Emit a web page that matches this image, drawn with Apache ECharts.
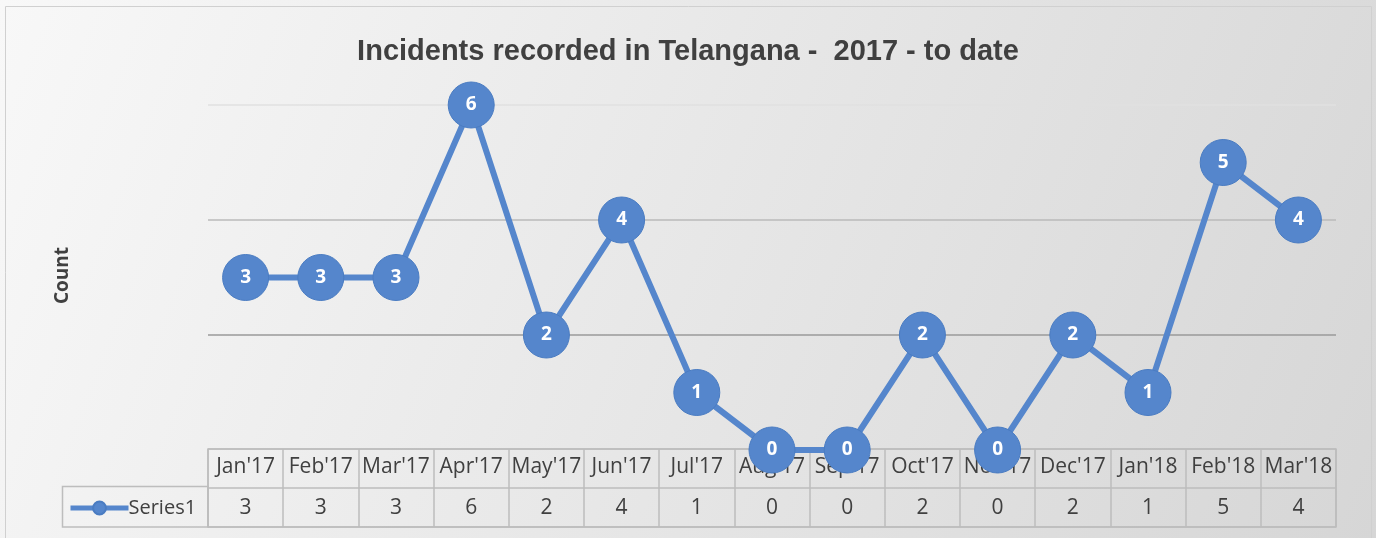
<!DOCTYPE html>
<html>
<head>
<meta charset="utf-8">
<script src="https://cdn.jsdelivr.net/npm/echarts@6/dist/echarts.min.js"></script>
<style>
html,body{margin:0;padding:0;background:#fff;}
#chart{width:1376px;height:538px;}
</style>
</head>
<body>
<div id="chart"></div>
<script>
const categories = ["Jan'17","Feb'17","Mar'17","Apr'17","May'17","Jun'17","Jul'17","Aug'17","Sep'17","Oct'17","Nov'17","Dec'17","Jan'18","Feb'18","Mar'18"];
const series1 = [3,3,3,6,2,4,1,0,0,2,0,2,1,5,4];
const yTicks = [0,2,4,6];
const seriesName = 'Series1';
const titleText = 'Incidents recorded in Telangana -  2017 - to date';
const yAxisName = 'Count';

const chart = echarts.init(document.getElementById('chart'), null, {renderer:'canvas'});
const blue = '#5586cc';
const txt = '#404040';
const tableLine = '#bdbdbd';
const tableFont = "'Open Sans', 'Noto Sans', sans-serif";

chart.setOption({
  animation: false,
  backgroundColor: {
    type: 'linear', x: 0, y: 0, x2: 1, y2: 1,
    colorStops: [{offset: 0, color: '#f8f8f8'}, {offset: 1, color: '#d6d6d6'}]
  },
  title: {
    text: titleText,
    left: 'center',
    top: 32,
    textStyle: {fontFamily: "'Liberation Sans Narrow', 'Liberation Sans', Arial, sans-serif", fontWeight: 'bold', fontSize: 29, color: txt}
  },
  legend: {
    data: [seriesName],
    left: 63,
    top: 493,
    itemWidth: 58,
    itemHeight: 16,
    itemGap: 0,
    lineStyle: {width: 5},
    textStyle: {fontFamily: tableFont, fontSize: 20, color: txt, padding: [0,0,0,-5]}
  },
  graphic: [
    {type: 'rect', shape: {x: 5.5, y: 6.5, width: 1366, height: 540}, style: {fill: 'none', stroke: '#d0d0d0', lineWidth: 1}, silent: true, z: -1},
    {type: 'rect', shape: {x: 62.5, y: 486.5, width: 145.5, height: 40.5}, style: {fill: 'none', stroke: tableLine, lineWidth: 1.5}, silent: true, z: 0},
    {type: 'text', left: 53, top: 247, rotation: Math.PI/2, style: {text: yAxisName, font: "bold 19px 'Open Sans', 'Noto Sans', sans-serif", fill: txt}, silent: true}
  ],
  grid: [
    {left: 208, top: 105, width: 1128, height: 345},
    {left: 208, top: 449, width: 1128, height: 78, show: true, borderColor: tableLine, borderWidth: 1.5}
  ],
  xAxis: [
    {gridIndex: 0, type: 'category', data: categories, boundaryGap: true,
     axisLine: {show: false}, axisTick: {show: false}, axisLabel: {show: false}, splitLine: {show: false}},
    {gridIndex: 1, type: 'category', data: categories, position: 'top', boundaryGap: true,
     axisLine: {show: false}, axisTick: {show: false},
     axisLabel: {inside: true, margin: 8, fontFamily: tableFont, fontSize: 21, color: txt, interval: 0},
     splitLine: {show: true, interval: 0, lineStyle: {color: tableLine, width: 1.5}}},
    {gridIndex: 1, type: 'category', data: categories, position: 'bottom', boundaryGap: true,
     axisLine: {show: false}, axisTick: {show: false},
     axisLabel: {inside: true, margin: 8, fontFamily: tableFont, fontSize: 21, color: txt, interval: 0,
       formatter: (v, i) => String(series1[i])},
     splitLine: {show: false}}
  ],
  yAxis: [
    {gridIndex: 0, type: 'value', min: yTicks[0], max: yTicks[yTicks.length-1], interval: 2,
     axisLine: {show: false}, axisTick: {show: false}, axisLabel: {show: false},
     splitLine: {show: true, lineStyle: {color: ['rgba(0,0,0,0)', '#9a9a9a', '#bababa', '#e0e0e0'], width: 1.5}}},
    {gridIndex: 1, type: 'value', min: 0, max: 2, interval: 1,
     axisLine: {show: false}, axisTick: {show: false}, axisLabel: {show: false},
     splitLine: {show: true, lineStyle: {color: tableLine, width: 1.5}}}
  ],
  series: [{
    name: seriesName,
    type: 'line',
    xAxisIndex: 0, yAxisIndex: 0,
    data: series1,
    clip: false,
    z: 5,
    symbol: 'circle',
    symbolSize: 46,
    lineStyle: {color: blue, width: 6},
    itemStyle: {color: blue, borderColor: '#4a7cc2', borderWidth: 1},
    label: {show: true, position: 'inside', color: '#fff', fontWeight: 'bold', fontSize: 19, fontFamily: tableFont},
    emphasis: {disabled: true}
  }]
});
</script>
</body>
</html>
